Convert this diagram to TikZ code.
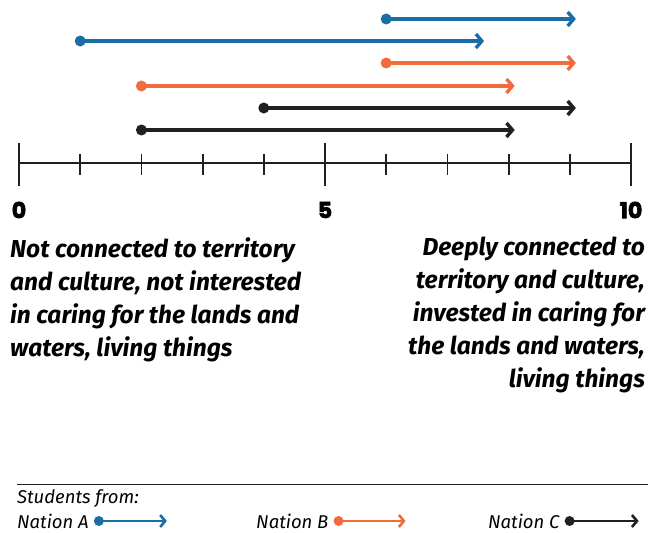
\documentclass[tikz,border=0pt]{standalone}
\usepackage{fontspec}
\setmainfont{Fira Sans}
\newfontfamily\numfont{Poppins}[BoldFeatures={FakeBold=3}]
\usetikzlibrary{arrows.meta,positioning}
\definecolor{nationA}{HTML}{1A6EA5}
\definecolor{nationB}{HTML}{F26C3B}
\definecolor{nationC}{HTML}{231F20}

\begin{document}
\begin{tikzpicture}
        [x=61.2pt, y=-1pt,
         span/.style={line width=3.4pt, -{Straight Barb[length=6pt,width=14pt]}},
         keyspan/.style={line width=2.6pt, -{Straight Barb[length=5pt,width=12pt]}},
         axis/.style={line width=1.8pt, nationC},
         num/.style={font=\numfont\bfseries\fontsize{22}{22}\selectfont, inner sep=0},
         blurb/.style={font=\bfseries\itshape\fontsize{24.5}{33}\selectfont, inner sep=0},
         keytext/.style={font=\itshape\fontsize{18.5}{22}\selectfont, inner sep=0, anchor=west}]

        \useasboundingbox (-0.3105,0) rectangle (10.3105,533);

        % ranges
        \coordinate (a1s) at (6, 19);   \coordinate (a1e) at (9.1, 19);
        \coordinate (a2s) at (1, 41);   \coordinate (a2e) at (7.6, 41);
        \coordinate (b1s) at (6, 63);   \coordinate (b1e) at (9.1, 63);
        \coordinate (b2s) at (2, 86);   \coordinate (b2e) at (8.1, 86);
        \coordinate (c1s) at (4, 108);  \coordinate (c1e) at (9.1, 108);
        \coordinate (c2s) at (2, 130);  \coordinate (c2e) at (8.1, 130);

        \draw[span, nationA] (a1s) -- (a1e);
        \draw[span, nationA] (a2s) -- (a2e);
        \draw[span, nationB] (b1s) -- (b1e);
        \draw[span, nationB] (b2s) -- (b2e);
        \draw[span, nationC] (c1s) -- (c1e);
        \draw[span, nationC] (c2s) -- (c2e);
        \fill[nationA] (a1s) circle (5.5pt) (a2s) circle (5.5pt);
        \fill[nationB] (b1s) circle (5.5pt) (b2s) circle (5.5pt);
        \fill[nationC] (c1s) circle (5.5pt) (c2s) circle (5.5pt);

        % scale
        \draw[axis] (0, 163) -- (10, 163);
        \foreach \i in {0,5,10}
          \draw[axis] (\i, 143) -- (\i, 186);
        \foreach \i in {1,2,3,4,6,7,8,9}
          \draw[axis] (\i, 154) -- (\i, 175);

        \node[num] (n0) at (0, 210) {0};
        \node[num] (n5) at (5, 210) {5};
        \node[num] (n10) at (10, 210) {10};

        \node[blurb, anchor=north west, align=left] (low) at (-0.147, 237)
          {Not connected to territory\\and culture, not interested\\in caring for the lands and\\waters, living things};
        \node[blurb, anchor=north east, align=right] (high) at (10.23, 237)
          {Deeply connected to\\territory and culture,\\invested in caring for\\the lands and waters,\\living things};

        % key
        \draw[line width=1pt, nationC] (-0.033, 484) -- (10.278, 484);
        \node[keytext] (from) at (-0.033, 499) {Students from:};
        \node[keytext] (kA) at (-0.033, 521) {Nation A};
        \node[keytext] (kB) at (3.873, 521) {Nation B};
        \node[keytext] (kC) at (7.663, 521) {Nation C};

        \coordinate[right=10pt of kA.east] (kAs);
        \coordinate[right=68pt of kAs] (kAe);
        \coordinate[right=10pt of kB.east] (kBs);
        \coordinate[right=67pt of kBs] (kBe);
        \coordinate[right=10pt of kC.east] (kCs);
        \coordinate[right=69pt of kCs] (kCe);

        \draw[keyspan, nationA] (kAs) -- (kAe);
        \draw[keyspan, nationB] (kBs) -- (kBe);
        \draw[keyspan, nationC] (kCs) -- (kCe);
        \fill[nationA] (kAs) circle (5pt);
        \fill[nationB] (kBs) circle (5pt);
        \fill[nationC] (kCs) circle (5pt);
      \end{tikzpicture}
\end{document}
